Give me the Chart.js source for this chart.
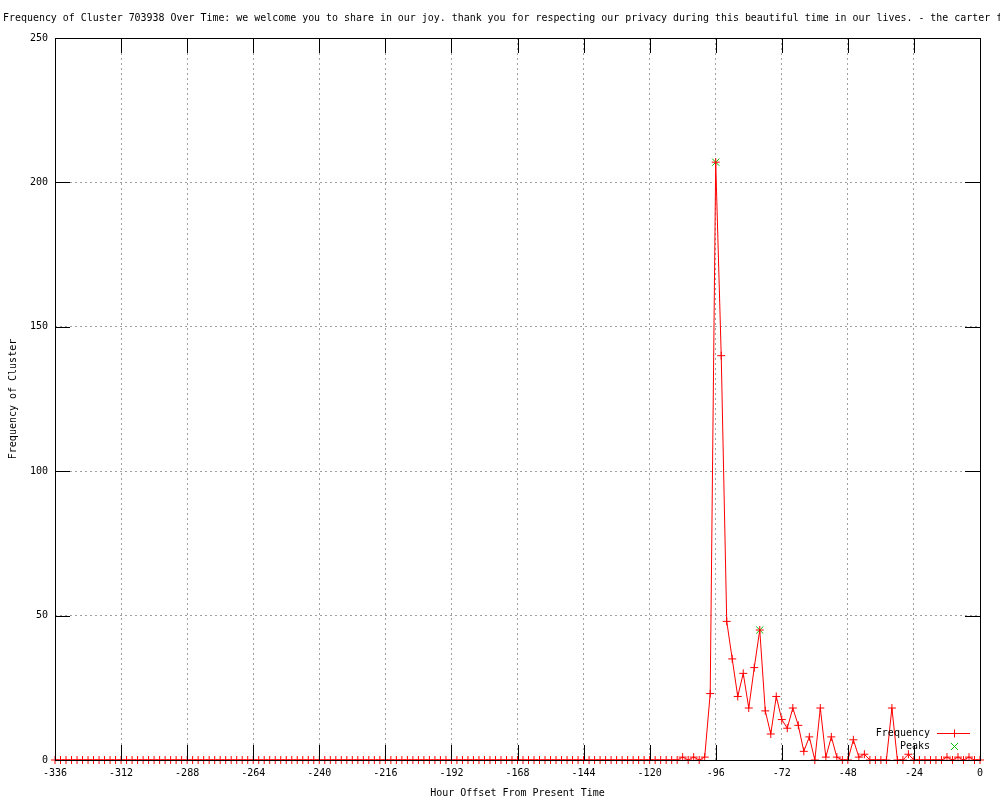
<!DOCTYPE html>
<html>
<head>
<meta charset="utf-8">
<script src="https://cdn.jsdelivr.net/npm/chart.js@4.4.1/dist/chart.umd.min.js"></script>
<style>
html, body { margin: 0; padding: 0; background: #fff; }
</style>
</head>
<body>
<canvas id="clusterChart" width="1000" height="800"></canvas>
<script>
// chart text
const titleText = 'Frequency of Cluster 703938 Over Time: we welcome you to share in our joy. thank you for respecting our privacy during this beautiful time in our lives. - the carter family';
const xTitle = 'Hour Offset From Present Time';
const yTitle = 'Frequency of Cluster';

// hour offsets (one sample every 2 hours)
const hours = [
    -336, -334, -332, -330, -328, -326, -324, -322, -320, -318, -316, -314,
    -312, -310, -308, -306, -304, -302, -300, -298, -296, -294, -292, -290,
    -288, -286, -284, -282, -280, -278, -276, -274, -272, -270, -268, -266,
    -264, -262, -260, -258, -256, -254, -252, -250, -248, -246, -244, -242,
    -240, -238, -236, -234, -232, -230, -228, -226, -224, -222, -220, -218,
    -216, -214, -212, -210, -208, -206, -204, -202, -200, -198, -196, -194,
    -192, -190, -188, -186, -184, -182, -180, -178, -176, -174, -172, -170,
    -168, -166, -164, -162, -160, -158, -156, -154, -152, -150, -148, -146,
    -144, -142, -140, -138, -136, -134, -132, -130, -128, -126, -124, -122,
    -120, -118, -116, -114, -112, -110, -108, -106, -104, -102, -100, -98,
    -96, -94, -92, -90, -88, -86, -84, -82, -80, -78, -76, -74,
    -72, -70, -68, -66, -64, -62, -60, -58, -56, -54, -52, -50,
    -48, -46, -44, -42, -40, -38, -36, -34, -32, -30, -28, -26,
    -24, -22, -20, -18, -16, -14, -12, -10, -8, -6, -4, -2,
    0
];

// frequency at each hour offset
const frequency = [
    0, 0, 0, 0, 0, 0, 0, 0, 0, 0, 0, 0,
    0, 0, 0, 0, 0, 0, 0, 0, 0, 0, 0, 0,
    0, 0, 0, 0, 0, 0, 0, 0, 0, 0, 0, 0,
    0, 0, 0, 0, 0, 0, 0, 0, 0, 0, 0, 0,
    0, 0, 0, 0, 0, 0, 0, 0, 0, 0, 0, 0,
    0, 0, 0, 0, 0, 0, 0, 0, 0, 0, 0, 0,
    0, 0, 0, 0, 0, 0, 0, 0, 0, 0, 0, 0,
    0, 0, 0, 0, 0, 0, 0, 0, 0, 0, 0, 0,
    0, 0, 0, 0, 0, 0, 0, 0, 0, 0, 0, 0,
    0, 0, 0, 0, 0, 0, 1, 0, 1, 0, 1, 23,
    207, 140, 48, 35, 22, 30, 18, 32, 45, 17, 9, 22,
    14, 11, 18, 12, 3, 8, 0, 18, 1, 8, 1, 0,
    0, 7, 1, 2, 0, 0, 0, 0, 18, 0, 0, 2,
    0, 0, 0, 0, 0, 0, 1, 0, 1, 0, 1, 0,
    0
];

// detected peaks
const peakHours = [-96, -80];
const peakValues = [207, 45];

const lineColor = '#ff0000';
const peakColor = '#00c000';
const gridColor = '#a0a0a0';
const monoFont = '"DejaVu Sans Mono", "Liberation Mono", monospace';
const ticLength = 15;

Chart.defaults.font.family = monoFont;
Chart.defaults.font.size = 10;
Chart.defaults.color = '#000';

// draw a small "+" or "x" marker by hand for the key
function keyMarker(ctx, cx, cy, r, rotated) {
    ctx.beginPath();
    if (rotated) {
        ctx.moveTo(cx - r, cy - r);
        ctx.lineTo(cx + r, cy + r);
        ctx.moveTo(cx - r, cy + r);
        ctx.lineTo(cx + r, cy - r);
    } else {
        ctx.moveTo(cx - r, cy);
        ctx.lineTo(cx + r, cy);
        ctx.moveTo(cx, cy - r);
        ctx.lineTo(cx, cy + r);
    }
    ctx.stroke();
}

// title, frame, inward tics and gnuplot-like key
const gnuplotLook = {
    id: 'gnuplotLook',
    beforeDraw(chart) {
        const ctx = chart.ctx;
        ctx.save();
        ctx.fillStyle = '#fff';
        ctx.fillRect(0, 0, chart.width, chart.height);
        ctx.restore();
    },
    afterDatasetsDraw(chart) {
        const ctx = chart.ctx;
        const a = chart.chartArea;
        const x = chart.scales.x;
        const y = chart.scales.y;
        ctx.save();
        ctx.strokeStyle = '#000';
        ctx.lineWidth = 1;
        ctx.beginPath();
        x.ticks.forEach(t => {
            const px = Math.round(x.getPixelForValue(t.value)) + 0.5;
            ctx.moveTo(px, a.bottom);
            ctx.lineTo(px, a.bottom - ticLength);
            ctx.moveTo(px, a.top);
            ctx.lineTo(px, a.top + ticLength);
        });
        y.ticks.forEach(t => {
            const py = Math.round(y.getPixelForValue(t.value)) + 0.5;
            ctx.moveTo(a.left, py);
            ctx.lineTo(a.left + ticLength, py);
            ctx.moveTo(a.right, py);
            ctx.lineTo(a.right - ticLength, py);
        });
        ctx.stroke();
        ctx.strokeRect(Math.round(a.left) + 0.5, Math.round(a.top) + 0.5,
            Math.round(a.right - a.left), Math.round(a.bottom - a.top));
        ctx.restore();
    },
    afterDraw(chart) {
        const ctx = chart.ctx;
        const a = chart.chartArea;
        ctx.save();
        ctx.fillStyle = '#000';
        ctx.font = '9.95px ' + monoFont;
        ctx.textBaseline = 'middle';
        ctx.textAlign = 'left';
        ctx.fillText(titleText, 3, 18);

        // key
        ctx.font = '10px ' + monoFont;
        const textX = a.right - 50;
        const sampleL = a.right - 43;
        const sampleR = a.right - 10;
        const markX = Math.round((sampleL + sampleR) / 2) + 0.5;
        const row1 = a.bottom - 27;
        const row2 = a.bottom - 14;
        ctx.textAlign = 'right';
        ctx.fillText('Frequency', textX, row1);
        ctx.fillText('Peaks', textX, row2);
        ctx.strokeStyle = lineColor;
        ctx.lineWidth = 1;
        ctx.beginPath();
        ctx.moveTo(sampleL, row1 + 0.5);
        ctx.lineTo(sampleR, row1 + 0.5);
        ctx.stroke();
        keyMarker(ctx, markX, row1 + 0.5, 4, false);
        ctx.strokeStyle = peakColor;
        keyMarker(ctx, markX, row2 + 0.5, 3.5, true);
        ctx.restore();
    }
};

const ctx = document.getElementById('clusterChart').getContext('2d');
const clusterChart = new Chart(ctx, {
    type: 'line',
    data: {
        datasets: [{
            label: 'Frequency',
            data: hours.map((h, i) => ({ x: h, y: frequency[i] })),
            borderColor: lineColor,
            backgroundColor: lineColor,
            borderWidth: 1,
            pointStyle: 'cross',
            pointRadius: 4,
            pointHoverRadius: 4,
            pointBorderColor: lineColor,
            pointBorderWidth: 1,
            fill: false,
            tension: 0,
            clip: false
        }, {
            label: 'Peaks',
            data: peakHours.map((h, i) => ({ x: h, y: peakValues[i] })),
            showLine: false,
            borderColor: peakColor,
            backgroundColor: peakColor,
            pointStyle: 'crossRot',
            pointRadius: 5,
            pointHoverRadius: 5,
            pointBorderColor: peakColor,
            pointBorderWidth: 1,
            clip: false
        }]
    },
    options: {
        responsive: false,
        animation: false,
        events: [],
        layout: { padding: { top: 38, right: 20, left: 0, bottom: 0 } },
        plugins: {
            legend: { display: false },
            tooltip: { enabled: false },
            title: { display: false }
        },
        scales: {
            x: {
                type: 'linear',
                min: -336,
                max: 0,
                ticks: { stepSize: 24, padding: 7, maxRotation: 0, autoSkip: false },
                grid: { color: gridColor, drawTicks: false },
                border: { display: false, dash: [2, 3] },
                title: { display: true, text: xTitle, padding: { top: 0, bottom: 1 } },
                afterFit(scale) { scale.height = 40; }
            },
            y: {
                min: 0,
                max: 250,
                ticks: { stepSize: 50, padding: 7 },
                grid: { color: gridColor, drawTicks: false },
                border: { display: false, dash: [2, 3] },
                title: { display: true, text: yTitle, padding: { top: 7, bottom: 0 } },
                afterFit(scale) { scale.width = 55; }
            }
        }
    },
    plugins: [gnuplotLook]
});
</script>
</body>
</html>
